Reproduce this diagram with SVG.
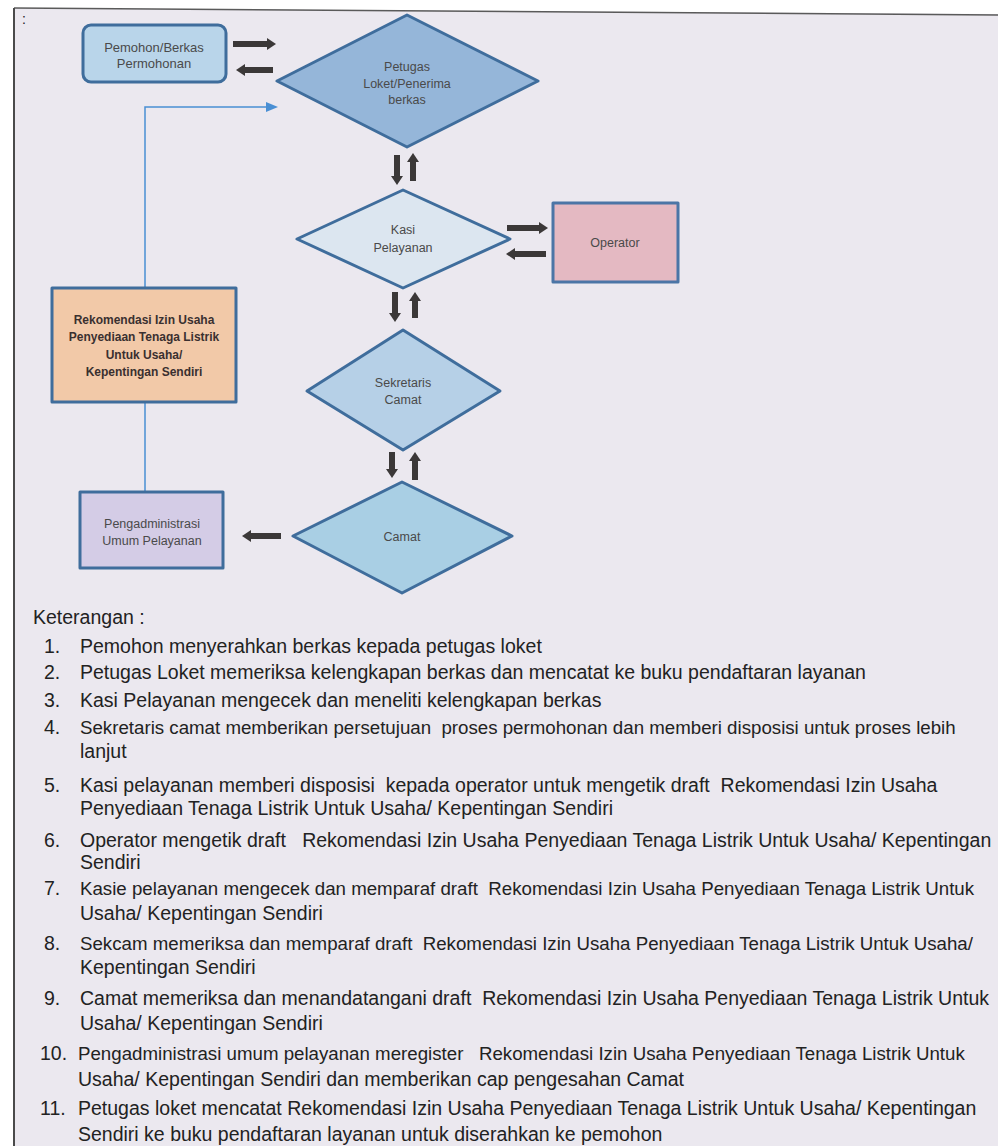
<svg xmlns="http://www.w3.org/2000/svg" width="998" height="1146" viewBox="0 0 998 1146">
<style>
.nd{stroke:#3f6d9c;stroke-width:3;stroke-linejoin:round}
.lbl{font-family:"Liberation Sans",Arial,sans-serif;font-size:12.5px;fill:#4a4a4a;text-anchor:middle}
.bold{font-weight:bold;fill:#3a3030;font-size:12px}
.txt{font-family:"Liberation Sans",Arial,sans-serif;font-size:19.5px;fill:#222222;white-space:pre}
.fit{font-size:18.7px}
.blk{stroke:#3b3838;stroke-width:6;fill:none}
</style>
<defs>
<marker id="ah" viewBox="0 0 10 10" refX="0" refY="5" markerWidth="9" markerHeight="12" markerUnits="userSpaceOnUse" orient="auto" preserveAspectRatio="none">
<path d="M0,0 L10,5 L0,10 z" fill="#3b3838"/>
</marker>
</defs>
<rect width="998" height="1146" fill="#ffffff"/>
<path d="M14,8 L998,14 L998,1146 L14,1146 Z" fill="#ebe8ef"/>
<line x1="14" y1="8" x2="998" y2="15" stroke="#5a5a5a" stroke-width="1.5"/>
<line x1="14" y1="8" x2="14" y2="1146" stroke="#4a4a4a" stroke-width="2"/>
<text x="22" y="24" class="txt" style="font-size:14px">:</text>

<g id="connectors">
<polyline points="145,492 145,107 268,107" fill="none" stroke="#4a8fd4" stroke-width="1.5"/>
<path d="M266,102 L278,107 L266,112 Z" fill="#4a8fd4"/>
<line x1="233" y1="44" x2="267" y2="44" class="blk" marker-end="url(#ah)"/>
<line x1="273" y1="70" x2="245" y2="70" class="blk" marker-end="url(#ah)"/>
<line x1="397" y1="155" x2="397" y2="176" class="blk" marker-end="url(#ah)"/>
<line x1="413" y1="181" x2="413" y2="162" class="blk" marker-end="url(#ah)"/>
<line x1="507" y1="228" x2="539" y2="228" class="blk" marker-end="url(#ah)"/>
<line x1="546" y1="254" x2="515" y2="254" class="blk" marker-end="url(#ah)"/>
<line x1="395" y1="292" x2="395" y2="313" class="blk" marker-end="url(#ah)"/>
<line x1="415" y1="318" x2="415" y2="301" class="blk" marker-end="url(#ah)"/>
<line x1="392" y1="452" x2="392" y2="469" class="blk" marker-end="url(#ah)"/>
<line x1="415" y1="480" x2="415" y2="461" class="blk" marker-end="url(#ah)"/>
<line x1="281" y1="536" x2="251" y2="536" class="blk" marker-end="url(#ah)"/>
</g>

<g id="pemohon">
<rect x="83" y="25" width="143" height="57" rx="8" fill="#b9d5ea" class="nd"/>
<text x="154" y="52" class="lbl" style="font-size:13px">Pemohon/Berkas</text>
<text x="154" y="68" class="lbl" style="font-size:13px">Permohonan</text>
</g>

<g id="petugas">
<polygon points="277,81 407,15 538,81 407,147" fill="#95b6d9" class="nd"/>
<text x="407" y="71" class="lbl">Petugas</text>
<text x="407" y="88" class="lbl">Loket/Penerima</text>
<text x="407" y="104" class="lbl">berkas</text>
</g>

<g id="kasi">
<polygon points="297,239 403,190 510,239 403,288" fill="#dce6f0" class="nd"/>
<text x="403" y="234" class="lbl">Kasi</text>
<text x="403" y="252" class="lbl">Pelayanan</text>
</g>

<g id="operator">
<rect x="553" y="203" width="125" height="79" fill="#e4b9c2" class="nd" style="stroke:#4b75a6"/>
<text x="615" y="247" class="lbl">Operator</text>
</g>

<g id="rekomendasi">
<rect x="52" y="288" width="184" height="114" fill="#f2c9a8" class="nd"/>
<text x="144" y="324" class="lbl bold">Rekomendasi Izin Usaha</text>
<text x="144" y="341" class="lbl bold">Penyediaan Tenaga Listrik</text>
<text x="144" y="359" class="lbl bold">Untuk Usaha/</text>
<text x="144" y="376" class="lbl bold">Kepentingan Sendiri</text>
</g>

<g id="sekretaris">
<polygon points="307,391 403,330 500,391 403,450" fill="#b6d0e7" class="nd"/>
<text x="403" y="387" class="lbl">Sekretaris</text>
<text x="403" y="404" class="lbl">Camat</text>
</g>

<g id="camat">
<polygon points="293,536 402,482 512,536 402,593" fill="#a9cfe4" class="nd"/>
<text x="402" y="541" class="lbl">Camat</text>
</g>

<g id="pengadministrasi">
<rect x="80" y="492" width="143" height="76" fill="#d4cce6" class="nd"/>
<text x="152" y="528" class="lbl">Pengadministrasi</text>
<text x="152" y="545" class="lbl">Umum Pelayanan</text>
</g>

<g id="keterangan">
<text x="33" y="624" class="txt">Keterangan :</text>
<text x="44" y="653" class="txt">1.</text><text x="80" y="653" class="txt">Pemohon menyerahkan berkas kepada petugas loket</text>
<text x="44" y="679" class="txt">2.</text><text x="80" y="679" class="txt">Petugas Loket memeriksa kelengkapan berkas dan mencatat ke buku pendaftaran layanan</text>
<text x="44" y="707" class="txt">3.</text><text x="80" y="707" class="txt">Kasi Pelayanan mengecek dan meneliti kelengkapan berkas</text>
<text x="44" y="734" class="txt">4.</text><text x="80" y="734" class="txt fit">Sekretaris camat memberikan persetujuan  proses permohonan dan memberi disposisi untuk proses lebih</text>
<text x="80" y="758" class="txt">lanjut</text>
<text x="44" y="792" class="txt">5.</text><text x="80" y="792" class="txt">Kasi pelayanan memberi disposisi  kepada operator untuk mengetik draft  Rekomendasi Izin Usaha</text>
<text x="80" y="815" class="txt">Penyediaan Tenaga Listrik Untuk Usaha/ Kepentingan Sendiri</text>
<text x="44" y="847" class="txt">6.</text><text x="80" y="847" class="txt">Operator mengetik draft   Rekomendasi Izin Usaha Penyediaan Tenaga Listrik Untuk Usaha/ Kepentingan</text>
<text x="80" y="869" class="txt">Sendiri</text>
<text x="44" y="895" class="txt">7.</text><text x="80" y="895" class="txt fit">Kasie pelayanan mengecek dan memparaf draft  Rekomendasi Izin Usaha Penyediaan Tenaga Listrik Untuk</text>
<text x="80" y="920" class="txt">Usaha/ Kepentingan Sendiri</text>
<text x="44" y="950" class="txt">8.</text><text x="80" y="950" class="txt fit">Sekcam memeriksa dan memparaf draft  Rekomendasi Izin Usaha Penyediaan Tenaga Listrik Untuk Usaha/</text>
<text x="80" y="974" class="txt">Kepentingan Sendiri</text>
<text x="44" y="1005" class="txt">9.</text><text x="80" y="1005" class="txt">Camat memeriksa dan menandatangani draft  Rekomendasi Izin Usaha Penyediaan Tenaga Listrik Untuk</text>
<text x="80" y="1030" class="txt">Usaha/ Kepentingan Sendiri</text>
<text x="40" y="1060" class="txt">10.</text><text x="78" y="1060" class="txt fit">Pengadministrasi umum pelayanan meregister   Rekomendasi Izin Usaha Penyediaan Tenaga Listrik Untuk</text>
<text x="78" y="1086" class="txt">Usaha/ Kepentingan Sendiri dan memberikan cap pengesahan Camat</text>
<text x="40" y="1115" class="txt">11.</text><text x="78" y="1115" class="txt">Petugas loket mencatat Rekomendasi Izin Usaha Penyediaan Tenaga Listrik Untuk Usaha/ Kepentingan</text>
<text x="78" y="1141" class="txt">Sendiri ke buku pendaftaran layanan untuk diserahkan ke pemohon</text>
</g>
</svg>
